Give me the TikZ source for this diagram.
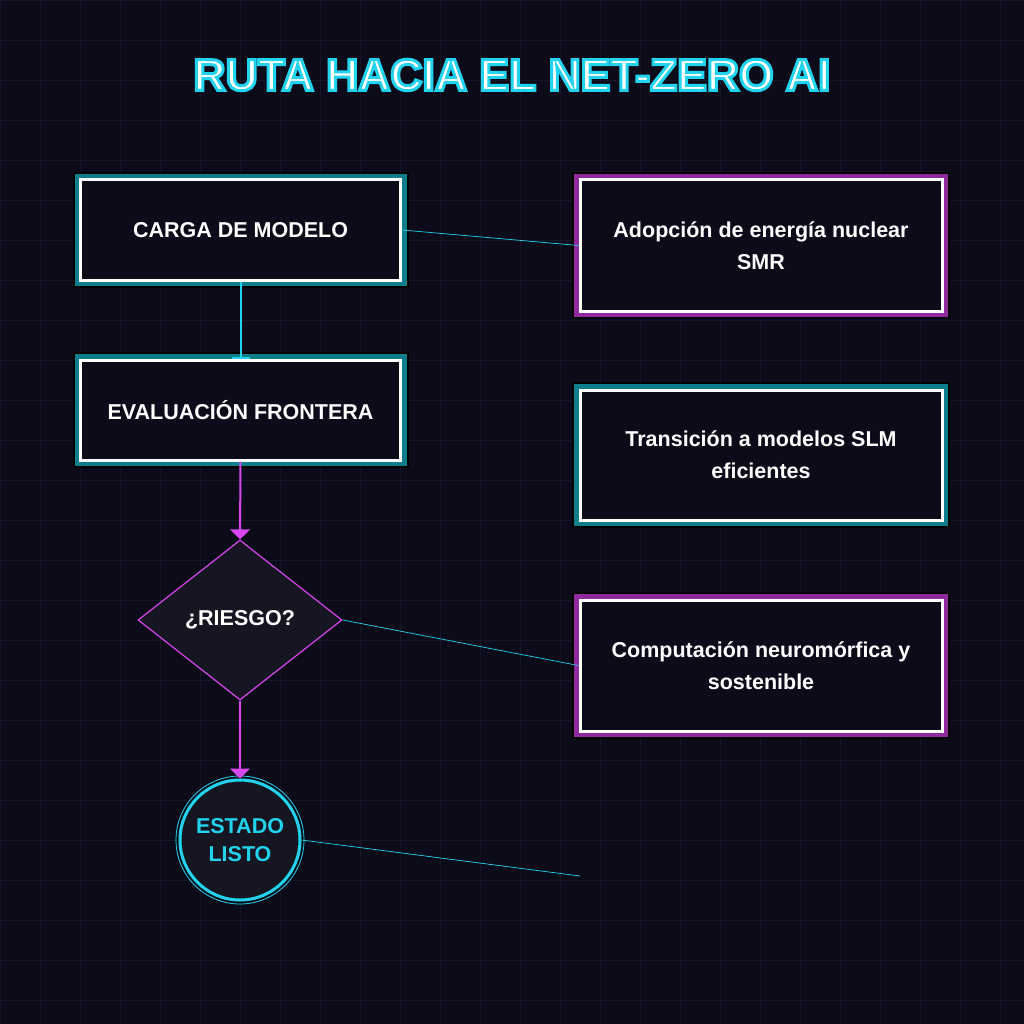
\documentclass[tikz,border=0pt]{standalone}
\usepackage{fontspec}
\setmainfont{Liberation Sans}
\usetikzlibrary{shapes.geometric,arrows.meta}
\definecolor{bg}{HTML}{0B0B1A}
\definecolor{gridc}{HTML}{161628}
\definecolor{cy}{HTML}{22D3EE}
\definecolor{teal}{HTML}{0E7E8C}
\definecolor{mag}{HTML}{D946EF}
\definecolor{magd}{HTML}{8E2A9E}
\definecolor{fillc}{HTML}{161622}
\begin{document}
\begin{tikzpicture}[x=1pt,y=-1pt,
  boxbase/.style={rectangle,draw=white,line width=3pt,fill=bg,text=white,font=\fontsize{21.5}{32}\selectfont\bfseries,align=center},
  tealbox/.style={boxbase,preaction={draw=black,line width=16pt},preaction={draw=teal,line width=12pt}},
  magbox/.style={boxbase,preaction={draw=black,line width=16pt},preaction={draw=magd,line width=12pt}},
  titlefont/.style={font=\fontsize{44.5}{50}\selectfont\bfseries},
  thin/.style={cy,line width=0.7pt}]
\fill[bg] (0,0) rectangle (1024,1024);
\useasboundingbox (0,0) rectangle (1024,1024);
\foreach \i in {0,40,...,1000}{\draw[gridc,line width=0.8pt] (\i,0)--(\i,1024); \draw[gridc,line width=0.8pt] (0,\i)--(1024,\i);}
\node[text=white,titlefont] (title) at (512,75) {\special{pdf:code 0.133 0.827 0.933 RG 3 w 2 Tr}RUTA HACIA EL NET-ZERO AI\special{pdf:code 0 Tr}};
\node[tealbox,minimum width=320pt,minimum height=100pt] (a) at (240.5,230) {CARGA DE MODELO};
\node[tealbox,minimum width=320pt,minimum height=100pt] (b) at (240.5,410) {EVALUACIÓN FRONTERA};
\node[diamond,draw=mag,line width=1.2pt,fill=fillc,minimum width=204pt,minimum height=160pt,inner sep=0pt,text=white,font=\fontsize{21.5}{25}\selectfont\bfseries] (c) at (240,620) {¿RIESGO?};
\node[circle,draw=cy,line width=3pt,fill=fillc,minimum size=120pt,inner sep=0pt,align=center,text=cy,font=\fontsize{21.5}{28}\selectfont\bfseries] (d) at (240,840) {ESTADO\\LISTO};
\draw[cy,line width=0.8pt] (d.center) circle (64);
\node[magbox,minimum width=362pt,minimum height=131pt] (e) at (761,245.5) {Adopción de energía nuclear\\SMR};
\node[tealbox,minimum width=362pt,minimum height=130pt] (f) at (761,455) {Transición a modelos SLM\\eficientes};
\node[magbox,minimum width=362pt,minimum height=131pt] (g) at (761,665.5) {Computación neuromórfica y\\sostenible};
\coordinate (h) at (580,876);
\draw[cy,line width=2pt,-{Bar[width=18pt]}] (a.south) -- (b.north);
\draw[mag,line width=2pt,-{Triangle[width=20pt,length=10pt]}] (b.south) -- (c.north);
\draw[mag,line width=2pt,-{Triangle[width=20pt,length=10pt]}] (c.south) -- (d.north);
\draw[thin] (a.east) -- (e.west);
\draw[thin] (c.east) -- (g.west);
\draw[thin] (d.east) -- (h);
\end{tikzpicture}
\end{document}
